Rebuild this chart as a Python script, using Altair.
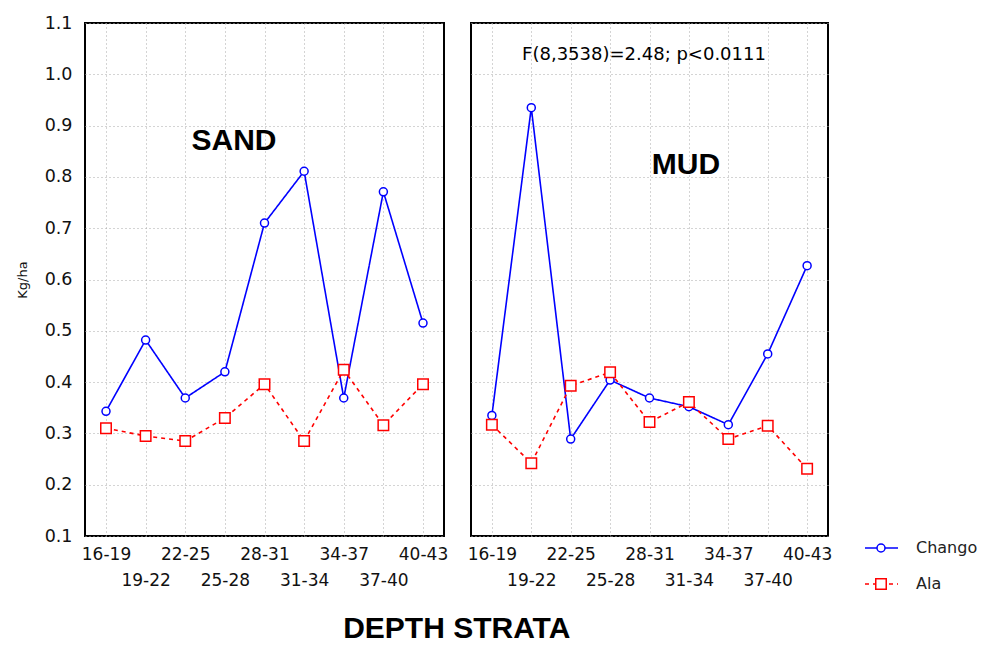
import altair as alt
import pandas as pd

strata = ["16-19", "19-22", "22-25", "25-28", "28-31", "31-34", "34-37", "37-40", "40-43"]
series = ["Chango", "Ala"]

sand_chango = [0.343, 0.482, 0.369, 0.420, 0.710, 0.811, 0.369, 0.771, 0.515]
sand_ala = [0.310, 0.295, 0.285, 0.330, 0.396, 0.285, 0.424, 0.316, 0.396]
mud_chango = [0.335, 0.935, 0.289, 0.404, 0.369, 0.352, 0.317, 0.455, 0.627]
mud_ala = [0.317, 0.242, 0.393, 0.419, 0.322, 0.361, 0.289, 0.315, 0.231]

y_ticks = [0.1, 0.2, 0.3, 0.4, 0.5, 0.6, 0.7, 0.8, 0.9, 1.0, 1.1]
second_row = ["19-22", "25-28", "31-34", "37-40"]


def frame(chango, ala):
    rows = []
    for i, (s, v) in enumerate(zip(strata, chango)):
        rows.append({"stratum": s, "series": "Chango", "value": v, "order": i})
    for i, (s, v) in enumerate(zip(strata, ala)):
        rows.append({"stratum": s, "series": "Ala", "value": v, "order": i})
    return pd.DataFrame(rows)


SANS = "DejaVu Sans"
ARIAL = "Liberation Sans"
label_expr = "indexof(%s, datum.value) >= 0 ? ['', datum.value] : datum.value" % str(second_row).replace('"', "'")

color = alt.Color("series:N", scale=alt.Scale(domain=series, range=["#0000ff", "#ff0000"]), legend=None)
dash = alt.StrokeDash("series:N", scale=alt.Scale(domain=series, range=[[1, 0], [4, 4]]), legend=None)
shape = alt.Shape("series:N", scale=alt.Scale(domain=series, range=["circle", "square"]), legend=None)
size = alt.Size("series:N", scale=alt.Scale(domain=series, range=[64, 110]), legend=None)
frame_view = alt.ViewBackground(stroke="black", strokeWidth=2)
GRID = "#a8a8a8"


def panel(chango, ala, show_y, width, texts):
    df = frame(chango, ala)
    x = alt.X("stratum:N", sort=strata,
              scale=alt.Scale(type="point", domain=strata, padding=0.53),
              axis=alt.Axis(title=None, labelExpr=label_expr, labelAngle=0, labelFont=SANS,
                            labelFontSize=17, labelColor="#111", labelPadding=10, labelLineHeight=26,
                            ticks=False, domain=False, grid=True, gridDash=[1, 3],
                            gridColor=GRID, gridWidth=1))
    y = alt.Y("value:Q", scale=alt.Scale(domain=[0.1, 1.1], nice=False, zero=False),
              axis=alt.Axis(values=y_ticks, format=".1f", title="Kg/ha" if show_y else None,
                            labels=show_y, titleFont=SANS, titleFontSize=13, titleFontWeight="normal",
                            titleColor="#111", titlePadding=15,
                            labelFont=SANS, labelFontSize=17.5, labelColor="#111", labelPadding=13,
                            ticks=False, domain=False, grid=True, gridDash=[1, 3],
                            gridColor=GRID, gridWidth=1))
    base = alt.Chart(df)
    line = base.mark_line(strokeWidth=1.6).encode(
        x=x, y=y, color=color, strokeDash=dash, order=alt.Order("order:Q"))
    pts = base.mark_point(filled=False, fill="white", fillOpacity=1, strokeWidth=1.5, opacity=1).encode(
        x=x, y=y, color=color, shape=shape, size=size)
    layers = [line, pts]
    for t in texts:
        layers.append(alt.Chart(pd.DataFrame({"t": [t["text"]]})).mark_text(
            font=t["font"], fontSize=t["size"], fontWeight=t["weight"], color="black", align="center",
            baseline="alphabetic").encode(text="t:N", x=alt.value(t["x"]), y=alt.value(t["y"])))
    return alt.layer(*layers).properties(width=width, height=513, view=frame_view)


left = panel(sand_chango, sand_ala, True, 359, [
    {"text": "SAND", "size": 30, "weight": "bold", "font": ARIAL, "x": 149, "y": 126.5},
])
right = panel(mud_chango, mud_ala, False, 357, [
    {"text": "F(8,3538)=2.48; p<0.0111", "size": 18, "weight": "normal", "font": SANS, "x": 173, "y": 37},
    {"text": "MUD", "size": 30, "weight": "bold", "font": ARIAL, "x": 215, "y": 150.5},
])

# legend drawn as a small panel of its own
leg_df = pd.DataFrame({"series": series})
leg_y = alt.Y("series:N", sort=series, scale=alt.Scale(type="point", domain=series, range=[525, 561], padding=0),
              axis=None)
leg_base = alt.Chart(leg_df)
leg_rule = leg_base.mark_rule(strokeWidth=1.6).encode(
    x=alt.value(0), x2=alt.value(33), y=leg_y, color=color, strokeDash=dash)
leg_pts = leg_base.mark_point(filled=False, fill="white", fillOpacity=1, strokeWidth=1.5, opacity=1).encode(
    x=alt.value(16), y=leg_y, color=color, shape=shape, size=size)
leg_txt = leg_base.mark_text(font=SANS, fontSize=16, color="#222", align="left", baseline="middle").encode(
    x=alt.value(51), y=leg_y, text="series:N")
legend = alt.layer(leg_rule, leg_pts, leg_txt).properties(width=33, height=513)

panels = alt.hconcat(left, right, spacing=17).resolve_scale(x="independent", y="independent")

chart = alt.hconcat(panels, legend, spacing=31).properties(
    padding={"left": 7, "top": 5, "right": 0, "bottom": 0},
    title=alt.TitleParams("DEPTH STRATA", orient="bottom", anchor="start", dx=328, offset=22,
                          font=ARIAL, fontSize=30, fontWeight="bold", color="black"),
).resolve_scale(x="independent", y="independent").configure(background="white").configure_view(stroke=None)

chart.save("out.html", embed_options={"renderer": "svg", "actions": False})
